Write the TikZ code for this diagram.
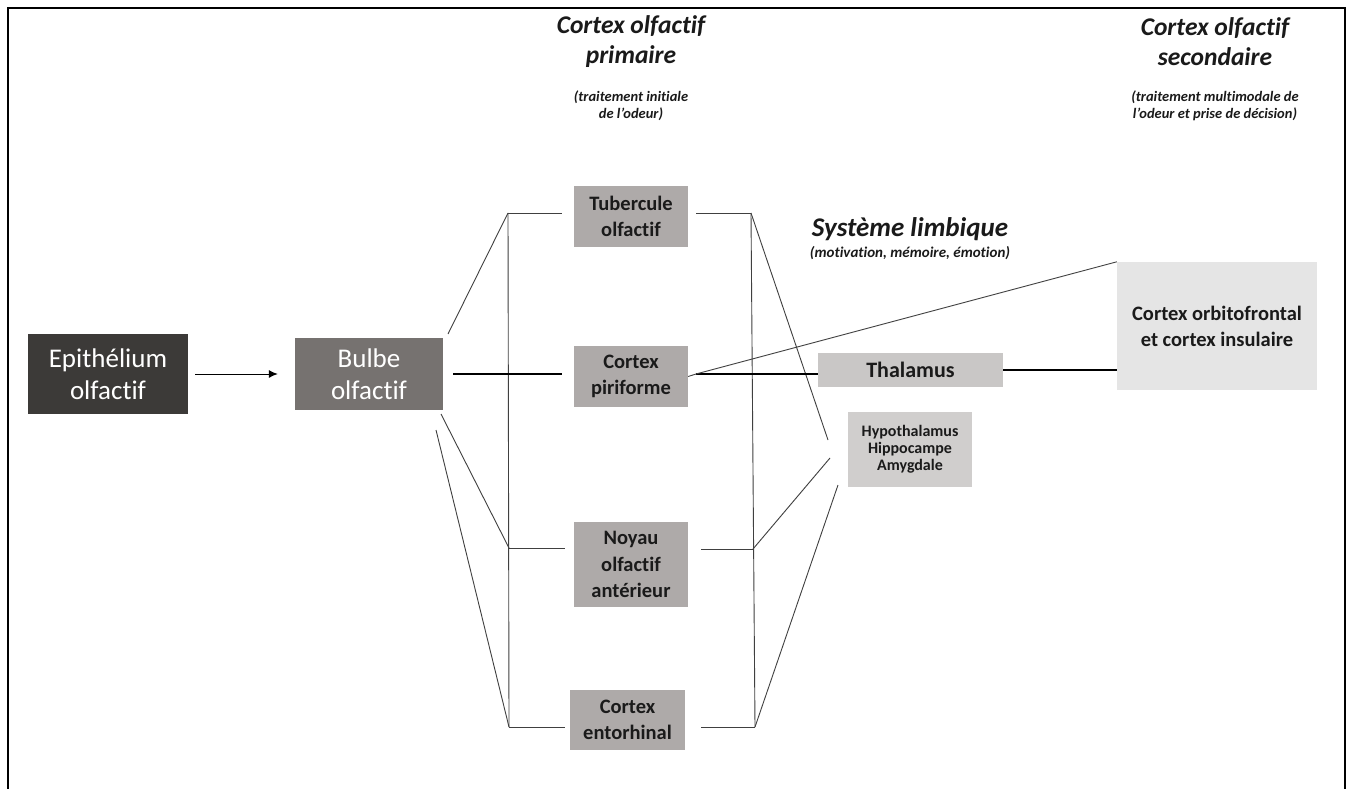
\documentclass[tikz,border=0pt]{standalone}
\usepackage{fontspec}
\setmainfont{Carlito}[Ligatures=NoCommon]
\usetikzlibrary{calc,arrows.meta}
\definecolor{epic}{HTML}{3C3A38}
\definecolor{bulbc}{HTML}{767270}
\definecolor{midc}{HTML}{AEAAA9}
\definecolor{thalc}{HTML}{C9C7C6}
\definecolor{hypc}{HTML}{D0CECD}
\definecolor{orbc}{HTML}{E5E5E5}
\definecolor{linec}{HTML}{404040}
\definecolor{txtc}{HTML}{1A1A1A}
\tikzset{
  box/.style={inner sep=0pt, align=center, anchor=center, text=txtc},
  midbox/.style={box, fill=midc, minimum width=114pt, font=\fontsize{20.5}{26}\selectfont\bfseries},
  thinline/.style={draw=linec, line width=0.9pt},
  thickline/.style={draw=black, line width=2.6pt},
  title/.style={align=center, text=txtc, font=\fontsize{25.5}{30}\selectfont\bfseries\itshape},
  subtitle/.style={align=center, text=txtc, font=\fontsize{14.5}{17}\selectfont\bfseries\itshape}
}
\begin{document}
\begin{tikzpicture}[x=1pt,y=-1pt]
\useasboundingbox (0,0) rectangle (1350,789);
\fill[white] (0,0) rectangle (1350,789);
% frame
\draw[line width=2pt] (8,789) -- (8,8) -- (1345,8) -- (1345,789);

% headers
\node[title] (h1) at (631,42) {Cortex olfactif\\primaire};
\node[subtitle] (h1s) at (631,106) {(traitement initiale\\de l’odeur)};
\node[title] (h2) at (1215,42) {Cortex olfactif\\secondaire};
\node[subtitle] (h2s) at (1215,106) {(traitement multimodale de\\l’odeur et prise de décision)};
\node[title, font=\fontsize{27}{30}\selectfont\bfseries\itshape] (h3) at (910,229) {Système limbique};
\node[subtitle, font=\fontsize{15}{17}\selectfont\bfseries\itshape] (h3s) at (910,253) {(motivation, mémoire, émotion)};

% boxes
\node[box, fill=epic, text=white, minimum width=160pt, minimum height=80pt,
      font=\fontsize{27}{32}\selectfont] (epi) at (108,374) {Epithélium\\olfactif};
\node[box, fill=bulbc, text=white, minimum width=148pt, minimum height=72pt,
      font=\fontsize{27}{32}\selectfont] (bulb) at (369,374) {Bulbe\\olfactif};
\node[midbox, minimum height=61pt] (tub) at (631,216.5) {Tubercule\\olfactif};
\node[midbox, minimum height=61pt] (pir) at (631,376.5) {Cortex\\piriforme};
\node[midbox, minimum height=85pt, font=\fontsize{20.5}{26.5}\selectfont\bfseries] (noy) at (631,564.5) {Noyau\\olfactif\\antérieur};
\node[midbox, minimum width=115pt, minimum height=60pt] (ent) at (627.5,720) {Cortex\\entorhinal};
\node[box, fill=thalc, minimum width=185pt, minimum height=34pt,
      font=\fontsize{22}{26}\selectfont\bfseries] (thal) at (910.5,370) {Thalamus};
\node[box, fill=hypc, minimum width=124pt, minimum height=75pt,
      font=\fontsize{16}{17}\selectfont\bfseries] (hyp) at (910,449.5) {Hypothalamus\\Hippocampe\\Amygdale};
\node[box, fill=orbc, minimum width=200pt, minimum height=128pt,
      font=\fontsize{20.5}{26}\selectfont\bfseries] (orb) at (1217,326) {Cortex orbitofrontal\\et cortex insulaire};

% arrow epithelium -> bulbe
\draw[-{Latex[length=9pt,width=8pt]}, line width=1pt, shorten <=7pt, shorten >=17pt] (epi.east) -- (bulb.west);

% left junctions
\coordinate (jLt) at (508,213);
\coordinate (jLn) at (509,548);
\coordinate (jLe) at (509,727);
\coordinate (b1) at (448,334);
\coordinate (b2) at (441,414);
\coordinate (b3) at (436,430);

\draw[thinline] (jLt) -- (jLe);
\draw[thinline] (b1) -- (jLt);
\draw[thinline] (b2) -- (jLn);
\draw[thinline] (b3) -- (jLe);
\draw[thinline, shorten >=12pt] (jLt) -- (jLt -| tub.west);
\draw[thinline, shorten >=9pt] (jLn) -- (jLn -| noy.west);
\draw[thinline, shorten >=5pt] (jLe) -- (jLe -| ent.west);
\draw[thickline, shorten <=10pt, shorten >=12pt] (bulb.east) -- (bulb.east -| pir.west);

% right junctions
\coordinate (jRt) at (751,213);
\coordinate (jRn) at (753,549);
\coordinate (jRe) at (755,727);
\coordinate (h1e) at (828,440);
\coordinate (h2e) at (830,458);
\coordinate (h3e) at (838,485);
\coordinate (pR) at (696,374);

\draw[thinline] (jRt) -- (jRe);
\draw[thinline, shorten <=8pt] (jRt -| tub.east) -- (jRt);
\draw[thinline, shorten <=13pt] (jRn -| noy.east) -- (jRn);
\draw[thinline, shorten <=16pt] (jRe -| ent.east) -- (jRe);
\draw[thinline] (jRt) -- (h1e);
\draw[thinline] (jRn) -- (h2e);
\draw[thinline] (jRe) -- (h3e);

% piriforme outputs
\draw[thinline] (pir.east) -- (pR);
\draw[draw=black, line width=1.6pt] (pR) -- (pR -| thal.west);
\draw[thinline] (pR) -- (orb.north west);
\draw[draw=black, line width=1.6pt] (thal.east) -- (thal.east -| orb.west);
\end{tikzpicture}
\end{document}
